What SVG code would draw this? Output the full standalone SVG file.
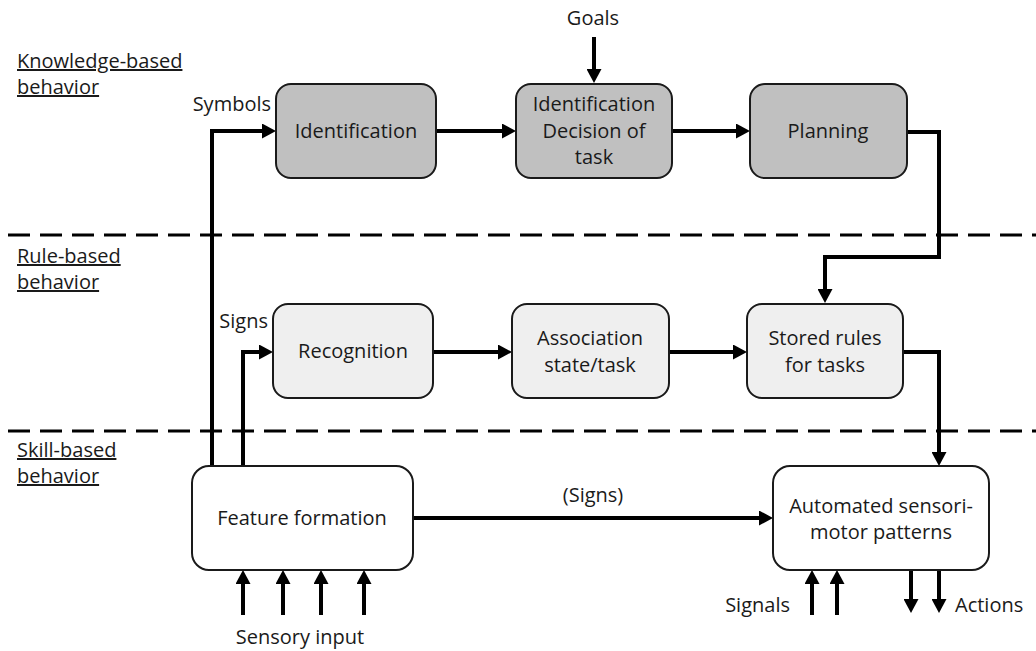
<svg xmlns="http://www.w3.org/2000/svg" width="1036" height="651" viewBox="0 0 1036 651">
<defs>
<marker id="ah" markerUnits="userSpaceOnUse" markerWidth="14" markerHeight="15" refX="8" refY="7.5" orient="auto">
<path d="M0,0 L14,7.5 L0,15 z" fill="#000"/>
</marker>
<style>
text{font-family:"Open Sans","Liberation Sans",sans-serif;font-size:20px;fill:#1a1a1a}
.c{text-anchor:middle}
.e{text-anchor:end}
.lvl{text-decoration:underline}
.box{stroke:#1a1a1a;stroke-width:2}
.k{fill:#c0c0c0}
.r{fill:#efefef}
.s{fill:#fff}
.con{fill:none;stroke:#000;stroke-width:4;marker-end:url(#ah)}
.dash{stroke:#000;stroke-width:3;stroke-dasharray:22 10}
</style>
</defs>
<rect width="1036" height="651" fill="#fff"/>
<g id="levels">
<line class="dash" x1="8" y1="235" x2="1036" y2="235"/>
<line class="dash" x1="8" y1="431" x2="1036" y2="431"/>
<text class="lvl" x="17" y="68">Knowledge-based</text>
<text class="lvl" x="17" y="94">behavior</text>
<text class="lvl" x="17" y="263">Rule-based</text>
<text class="lvl" x="17" y="289">behavior</text>
<text class="lvl" x="17" y="457">Skill-based</text>
<text class="lvl" x="17" y="483">behavior</text>
</g>
<g id="connectors">
<path class="con" d="M212,466 V131 H270"/>
<path class="con" d="M243,466 V352 H267"/>
<path class="con" d="M436,131 H510"/>
<path class="con" d="M672,131 H744"/>
<path class="con" d="M594,37 V77"/>
<path class="con" d="M907,132 H939 V257 H825 V297"/>
<path class="con" d="M433,352 H506"/>
<path class="con" d="M669,352 H741"/>
<path class="con" d="M903,352 H939 V460"/>
<path class="con" d="M413,518 H767"/>
<path class="con" d="M243,615 V576"/>
<path class="con" d="M283,615 V576"/>
<path class="con" d="M321,615 V576"/>
<path class="con" d="M364,615 V576"/>
<path class="con" d="M812,615 V576"/>
<path class="con" d="M837,615 V576"/>
<path class="con" d="M911,570 V607"/>
<path class="con" d="M939,570 V607"/>
</g>
<g id="labels">
<text class="e" x="271" y="111">Symbols</text>
<text class="c" x="593" y="25">Goals</text>
<text class="e" x="268" y="328">Signs</text>
<text class="c" x="593" y="502">(Signs)</text>
<text class="c" x="300" y="644">Sensory input</text>
<text class="e" x="790" y="612">Signals</text>
<text x="955" y="612">Actions</text>
</g>
<g id="identification">
<rect class="box k" x="276" y="84" width="160" height="94" rx="15"/>
<text class="c" x="356" y="138">Identification</text>
</g>
<g id="decision">
<rect class="box k" x="516" y="84" width="156" height="94" rx="15"/>
<text class="c" x="594" y="111">Identification</text>
<text class="c" x="594" y="138">Decision of</text>
<text class="c" x="594" y="164">task</text>
</g>
<g id="planning">
<rect class="box k" x="750" y="84" width="157" height="94" rx="15"/>
<text class="c" x="828" y="138">Planning</text>
</g>
<g id="recognition">
<rect class="box r" x="273" y="304" width="160" height="94" rx="15"/>
<text class="c" x="353" y="358">Recognition</text>
</g>
<g id="association">
<rect class="box r" x="512" y="304" width="157" height="94" rx="15"/>
<text class="c" x="590" y="345">Association</text>
<text class="c" x="590" y="372">state/task</text>
</g>
<g id="stored">
<rect class="box r" x="747" y="304" width="156" height="94" rx="15"/>
<text class="c" x="825" y="345">Stored rules</text>
<text class="c" x="825" y="372">for tasks</text>
</g>
<g id="feature">
<rect class="box s" x="192" y="466" width="221" height="104" rx="17"/>
<text class="c" x="302" y="525">Feature formation</text>
</g>
<g id="automated">
<rect class="box s" x="773" y="466" width="216" height="104" rx="17"/>
<text class="c" x="881" y="513">Automated sensori-</text>
<text class="c" x="881" y="539">motor patterns</text>
</g>
</svg>
